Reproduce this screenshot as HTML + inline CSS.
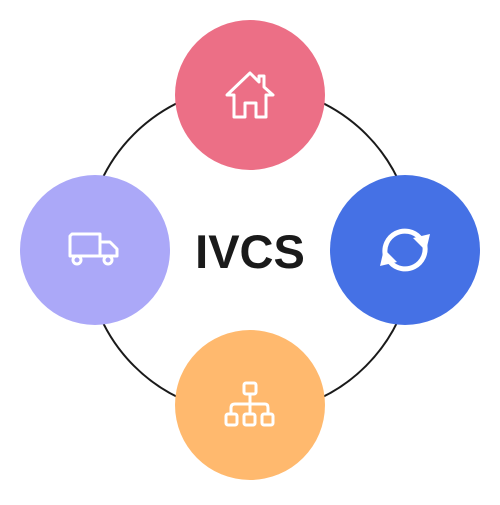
<!DOCTYPE html>
<html><head><style>body{margin:0;background:#fff}</style></head><body>
<svg width="500" height="500" viewBox="0 0 500 500" xmlns="http://www.w3.org/2000/svg">
<circle cx="250" cy="250" r="164" fill="none" stroke="#1a1a1a" stroke-width="2"/>
<circle cx="250" cy="95" r="75" fill="#EC6F86"/>
<circle cx="405" cy="250" r="75" fill="#4571E5"/>
<circle cx="250" cy="405" r="75" fill="#FFB96E"/>
<circle cx="95" cy="250" r="75" fill="#ABA8F8"/>
<text x="250" y="268" text-anchor="middle" font-family="Liberation Sans, sans-serif" font-weight="bold" font-size="47" fill="#1a1a1a">IVCS</text>
<g fill="none" stroke="#fff" stroke-width="3" stroke-linejoin="round" stroke-linecap="round">
<path d="M227 95 L250 73 L259 82 L259 76 L264 76 L264 87 L273 95 L266 95 L266 117 L256 117 L256 103 L245 103 L245 117 L234 117 L234 95 Z"/>
<path d="M72 234 H100 V256 H70 V236 Z M100 242 H110 L117 249 V256 H100 M70 256 H100"/>
<circle cx="77" cy="260" r="4" fill="#ABA8F8"/>
<circle cx="108" cy="260" r="4" fill="#ABA8F8"/>
<rect x="244" y="383" width="12" height="11" rx="2"/>
<path d="M250 394 V414 M231 414 V408 Q231 404 235 404 H265 Q268 404 268 408 V414"/>
<rect x="226" y="414" width="11" height="11" rx="2"/>
<rect x="244" y="414" width="11" height="11" rx="2"/>
<rect x="262" y="414" width="11" height="11" rx="2"/>
</g>
<g fill="none" stroke="#fff" stroke-width="5">
<path d="M385.5 256 A20 20 0 0 1 420 238"/>
<path d="M424.5 244 A20 20 0 0 1 390 262"/>
</g>
<g fill="#fff">
<polygon points="413,238 430,234 426,251"/>
<polygon points="397,262 380,266 384,249"/>
</g>
</svg>
</body></html>
